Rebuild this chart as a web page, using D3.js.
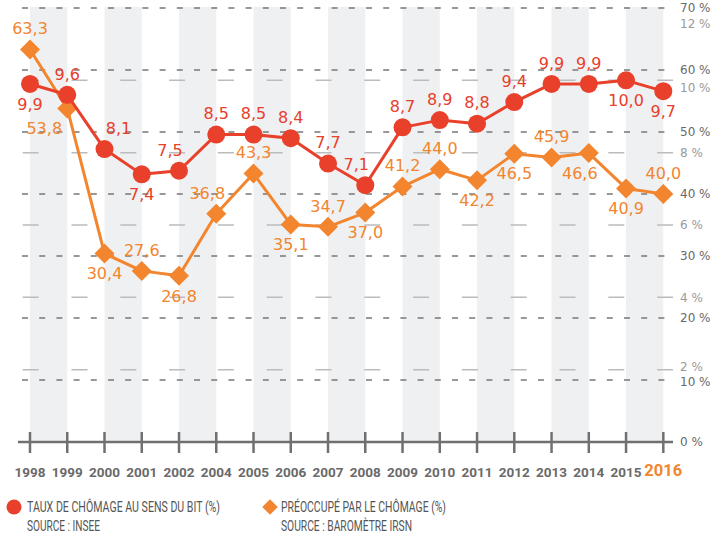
<!DOCTYPE html>
<html>
<head>
<meta charset="utf-8">
<script src="https://cdn.jsdelivr.net/npm/d3@7"></script>
<style>
  body { margin: 0; background: #fff; }
  svg { display: block; }
</style>
</head>
<body>
<svg width="725" height="539"></svg>
<script>
const years = ['1998', '1999', '2000', '2001', '2002', '2004', '2005', '2006', '2007',
    '2008', '2009', '2010', '2011', '2012', '2013', '2014', '2015', '2016'];
// taux de chomage (axe interne, 0-12 %)
const chomage = [9.9, 9.6, 8.1, 7.4, 7.5, 8.5, 8.5, 8.4, 7.7, 7.1, 8.7, 8.9, 8.8, 9.4, 9.9, 9.9, 10.0, 9.7];
// preoccupe par le chomage (axe externe, 0-70 %)
const preoccupe = [63.3, 53.8, 30.4, 27.6, 26.8, 36.8, 43.3, 35.1, 34.7, 37.0, 41.2, 44.0, 42.2, 46.5, 45.9, 46.6, 40.9, 40.0];
const outerTicks = [0, 10, 20, 30, 40, 50, 60, 70];
const innerTicks = [2, 4, 6, 8, 10, 12];
// where each value label sits: a = above, b = below, l/r = nudged left/right
const chomageLabelPos = ['b', 'a', 'ar', 'b', 'al', 'a', 'a', 'a', 'a', 'al', 'a', 'a', 'a', 'a', 'a', 'a', 'b', 'b'];
const preoccupeLabelPos = ['a', 'bL', 'b', 'a', 'b', 'al', 'a', 'b', 'a', 'b', 'a', 'a', 'b', 'b', 'a', 'bl', 'b', 'a'];

const RED = '#e8402a';
const ORANGE = '#f2852e';
const GREY = '#707070';

const svg = d3.select('svg');
const fmt = v => d3.format('.1f')(v).replace('.', ',');

const x = d3.scalePoint().domain(years).range([30, 663.3]);
const yOuter = d3.scaleLinear().domain([0, 70]).range([442, 8]);
const yInner = d3.scaleLinear().domain([0, 12]).range([442, 8]);

// alternating grey columns
svg.append('g')
    .selectAll('rect')
    .data(years.filter((d, i) => i % 2 === 0 && i < years.length - 1))
    .enter().append('rect')
    .attr('x', d => x(d))
    .attr('width', x.step())
    .attr('y', yOuter(70) - 1)
    .attr('height', yOuter(0) - yOuter(70) + 1)
    .attr('fill', '#eff0f2');

// inner grid (short solid dashes)
svg.append('g')
    .selectAll('line')
    .data(innerTicks.filter(t => t < 12))
    .enter().append('line')
    .attr('x1', 22.7).attr('x2', 673)
    .attr('y1', d => yInner(d)).attr('y2', d => yInner(d))
    .attr('stroke', '#bcbcbc')
    .attr('stroke-width', 1.5)
    .attr('stroke-dasharray', '16,32.8');

// outer grid (dashed)
svg.append('g')
    .selectAll('line')
    .data(outerTicks.filter(t => t > 0))
    .enter().append('line')
    .attr('x1', 22).attr('x2', 673)
    .attr('y1', d => yOuter(d)).attr('y2', d => yOuter(d))
    .attr('stroke', '#777')
    .attr('stroke-width', 1.5)
    .attr('stroke-dasharray', '6,11.2');

// right labels (some nudged so the two scales don't collide)
const innerNudge = {12: 16, 10: 7, 2: -3};
const outerNudge = {10: 2};
svg.append('g')
    .selectAll('text')
    .data(outerTicks)
    .enter().append('text')
    .attr('x', 680)
    .attr('y', d => yOuter(d) + (outerNudge[d] || 0))
    .attr('dy', '0.36em')
    .attr('font-family', 'DejaVu Sans')
    .attr('font-size', 12)
    .attr('fill', '#6a6a6a')
    .text(d => d + ' %');

svg.append('g')
    .selectAll('text')
    .data(innerTicks)
    .enter().append('text')
    .attr('x', 680)
    .attr('y', d => yInner(d) + (innerNudge[d] || 0))
    .attr('dy', '0.36em')
    .attr('font-family', 'DejaVu Sans')
    .attr('font-size', 12)
    .attr('fill', '#9a9a9a')
    .text(d => d + ' %');

// x axis
svg.append('line')
    .attr('x1', 18).attr('x2', 673)
    .attr('y1', 442).attr('y2', 442)
    .attr('stroke', GREY).attr('stroke-width', 2.5);

svg.append('g')
    .selectAll('line')
    .data(years)
    .enter().append('line')
    .attr('x1', d => x(d)).attr('x2', d => x(d))
    .attr('y1', 432).attr('y2', 453)
    .attr('stroke', GREY).attr('stroke-width', 2.5);

svg.append('g')
    .selectAll('text')
    .data(years)
    .enter().append('text')
    .attr('x', d => x(d))
    .attr('y', (d, i) => i === years.length - 1 ? 476 : 477)
    .attr('text-anchor', 'middle')
    .attr('font-family', 'Roboto')
    .attr('font-weight', 700)
    .attr('font-size', (d, i) => i === years.length - 1 ? 16.5 : 13.5)
    .attr('fill', (d, i) => i === years.length - 1 ? ORANGE : '#6a6a6a')
    .text(d => d);

// series
const diamond = d3.symbol().type(d3.symbolSquare).size(200);

const drawSeries = (values, yScale, color, marker, labelPos) => {
    const pts = values.map((v, i) => ({year: years[i], v: v, pos: labelPos[i]}));
    const g = svg.append('g');

    g.append('path')
        .datum(pts)
        .attr('fill', 'none')
        .attr('stroke', color)
        .attr('stroke-width', 3)
        .attr('stroke-linejoin', 'round')
        .attr('d', d3.line().x(d => x(d.year)).y(d => yScale(d.v)));

    if (marker === 'circle') {
        g.selectAll('circle')
            .data(pts)
            .enter().append('circle')
            .attr('cx', d => x(d.year))
            .attr('cy', d => yScale(d.v))
            .attr('r', 9)
            .attr('fill', color);
    } else {
        g.selectAll('path.m')
            .data(pts)
            .enter().append('path')
            .attr('class', 'm')
            .attr('d', diamond)
            .attr('transform', d => 'translate(' + x(d.year) + ',' + yScale(d.v) + ') rotate(45)')
            .attr('fill', color);
    }

    g.selectAll('text')
        .data(pts)
        .enter().append('text')
        .attr('x', d => {
            let dx = 0;
            if (d.pos.includes('r')) dx = 14;
            if (d.pos.includes('l')) dx = -9;
            if (d.pos.includes('L')) dx = -23;
            return x(d.year) + dx;
        })
        .attr('y', d => yScale(d.v) + (d.pos[0] === 'a' ? -21 : 20))
        .attr('dy', '0.36em')
        .attr('text-anchor', 'middle')
        .attr('font-family', 'DejaVu Sans')
        .attr('font-size', 16)
        .attr('fill', color)
        .text(d => fmt(d.v));
};

drawSeries(preoccupe, yOuter, ORANGE, 'diamond', preoccupeLabelPos);
drawSeries(chomage, yInner, RED, 'circle', chomageLabelPos);

// legend
const legend = svg.append('g')
    .attr('font-family', 'Roboto')
    .attr('font-weight', 400)
    .attr('font-size', 15)
    .attr('fill', '#555');

legend.append('circle').attr('cx', 14).attr('cy', 507).attr('r', 7.5).attr('fill', RED);
legend.append('path')
    .attr('d', d3.symbol().type(d3.symbolSquare).size(120))
    .attr('transform', 'translate(270,507) rotate(45)')
    .attr('fill', ORANGE);

const legendText = [
    {x: 27, y: 512, t: 'TAUX DE CHÔMAGE AU SENS DU BIT (%)', w: 193},
    {x: 27, y: 531, t: 'SOURCE : INSEE', w: 73},
    {x: 281, y: 512, t: 'PRÉOCCUPÉ PAR LE CHÔMAGE (%)', w: 165},
    {x: 281, y: 531, t: 'SOURCE : BAROMÈTRE IRSN', w: 131}
];
legend.selectAll('text')
    .data(legendText)
    .enter().append('text')
    .attr('x', d => d.x)
    .attr('y', d => d.y)
    .attr('textLength', d => d.w)
    .attr('lengthAdjust', 'spacingAndGlyphs')
    .text(d => d.t);
</script>
</body>
</html>
